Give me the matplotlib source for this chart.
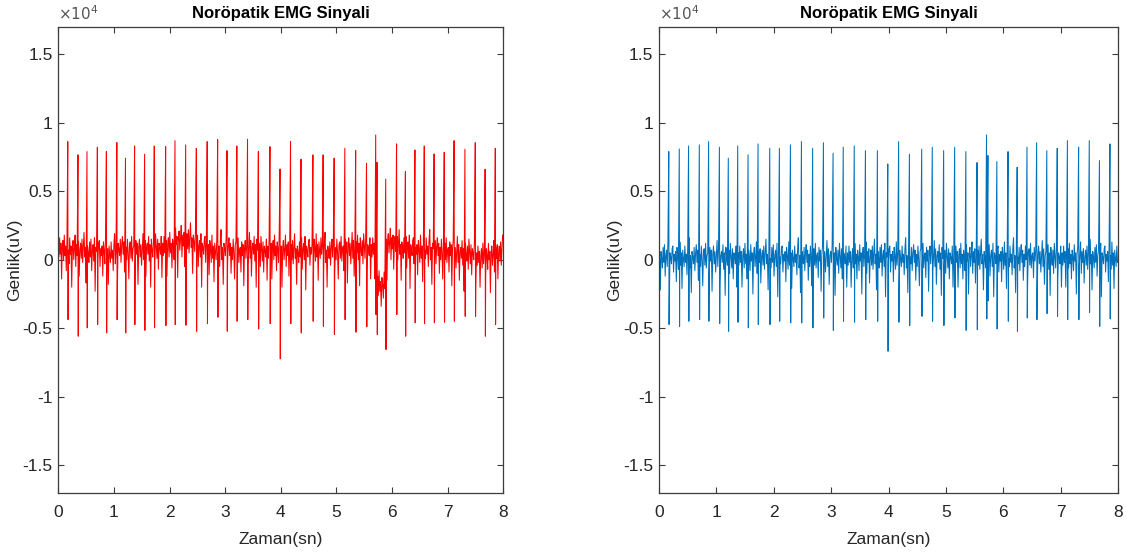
import matplotlib
matplotlib.use("Agg")
import matplotlib.pyplot as plt

# ---------------- data (amplitudes in units of 1e4 uV) ----------------
spike_t = [0.171, 0.354, 0.516, 0.703, 0.865, 1.053, 1.208, 1.372, 1.552, 1.726,
           1.930, 2.098, 2.290, 2.482, 2.677, 2.865, 3.033, 3.210, 3.402, 3.597,
           3.805, 3.986, 4.175, 4.363, 4.577, 4.761, 4.959, 5.151, 5.346, 5.541,
           5.706, 5.730, 5.886, 6.081, 6.240, 6.411, 6.579, 6.756, 6.938, 7.115,
           7.310, 7.496, 7.673, 7.856]

red_top = [0.862, 0.765, 0.789, 0.821, 0.789, 0.855, 0.741, 0.830, 0.770, 0.830,
           0.825, 0.869, 0.837, 0.813, 0.862, 0.877, 0.796, 0.830, 0.879, 0.789,
           0.825, 0.661, 0.862, 0.733, 0.765, 0.765, 0.741, 0.813, 0.796, 0.704,
           0.910, 0.710, 0.588, 0.845, 0.643, 0.801, 0.830, 0.772, 0.784, 0.869,
           0.806, 0.854, 0.661, 0.813]
red_bot = [-0.437, -0.558, -0.497, -0.473, -0.534, -0.437, -0.534, -0.473, -0.515, -0.497,
           -0.480, -0.473, -0.478, -0.522, -0.466, -0.420, -0.522, -0.449, -0.437, -0.505,
           -0.466, -0.723, -0.466, -0.534, -0.449, -0.486, -0.546, -0.437, -0.529, -0.490,
           -0.400, -0.546, -0.655, -0.400, -0.558, -0.460, -0.466, -0.460, -0.456, -0.449,
           -0.413, -0.413, -0.558, -0.473]

blue_top = [0.789, 0.808, 0.830, 0.838, 0.862, 0.821, 0.741, 0.830, 0.765, 0.845,
            0.813, 0.813, 0.838, 0.862, 0.813, 0.854, 0.777, 0.821, 0.830, 0.796,
            0.796, 0.699, 0.862, 0.770, 0.806, 0.821, 0.796, 0.821, 0.789, 0.709,
            0.910, 0.760, 0.716, 0.789, 0.675, 0.821, 0.854, 0.796, 0.813, 0.869,
            0.821, 0.869, 0.723, 0.845]
blue_bot = [-0.473, -0.486, -0.449, -0.437, -0.449, -0.466, -0.522, -0.456, -0.497, -0.473,
            -0.473, -0.449, -0.461, -0.461, -0.497, -0.425, -0.515, -0.449, -0.456, -0.437,
            -0.449, -0.668, -0.456, -0.480, -0.413, -0.449, -0.480, -0.425, -0.515, -0.510,
            -0.432, -0.300, -0.505, -0.449, -0.522, -0.425, -0.437, -0.393, -0.413, -0.437,
            -0.437, -0.384, -0.486, -0.432]

# baseline level of the raw (red) signal in each gap between spikes
red_offset = [0.06, 0.05, 0.05, 0.04, 0.04, 0.03, 0.06, 0.05, 0.05, 0.06,
              0.07, 0.08, 0.12, 0.12, 0.07, 0.05, 0.06, 0.05, 0.04, 0.06,
              0.05, 0.06, 0.05, 0.04, 0.05, 0.06, 0.04, 0.05, 0.06, 0.07,
              0.06, 0.00, -0.20, 0.10, 0.07, 0.06, 0.05, 0.06, 0.05, 0.04,
              0.03, 0.03, 0.00, 0.01, 0.03]
blue_offset = [0.0] * 45

# background activity
noise = [0.05, -0.04, 0.10, -0.02, 0.06, -0.20, 0.03, 0.08, -0.06, 0.12, -0.03, 0.04, -0.14, 0.07,
         0.02, -0.08, 0.11, -0.01, 0.05, -0.25, 0.04, 0.09, -0.05, 0.03, 0.13, -0.10, 0.06, -0.02,
         0.08, -0.17, 0.02, 0.07, -0.04, 0.10, -0.07, 0.05, 0.15, -0.03, 0.04, -0.22, 0.06, 0.01,
         -0.06, 0.09, -0.02, 0.11, -0.12, 0.03, 0.07, -0.05, 0.12, -0.27, 0.05, 0.02, -0.03, 0.08,
         0.10, -0.09, 0.04, -0.01, 0.06, -0.16, 0.09, 0.03, -0.07, 0.13, -0.04, 0.05, -0.21, 0.07,
         0.01, -0.05, 0.10, -0.02, 0.04, -0.11, 0.08, 0.16, -0.06, 0.03, -0.24, 0.06, 0.02, -0.03,
         0.09, -0.08, 0.05, 0.11, -0.02, 0.07, -0.15, 0.04, -0.05, 0.10, 0.00, -0.19, 0.06, 0.08,
         -0.04, 0.12, -0.06, 0.03, 0.05, -0.13, 0.09, -0.01, 0.07, -0.23, 0.04, 0.10, -0.03, 0.06,
         -0.09, 0.02, 0.14, -0.05, 0.08, -0.18, 0.03, 0.06, -0.02, 0.11, -0.07, 0.05, -0.26, 0.09,
         0.01, -0.04, 0.07, -0.10, 0.12, 0.03, -0.06, 0.08, -0.14, 0.05, 0.02, -0.03, 0.10, -0.20]

x_ticks = [0, 1, 2, 3, 4, 5, 6, 7, 8]
y_ticks = [-1.5, -1, -0.5, 0, 0.5, 1, 1.5]
y_ticklabels = ['-1.5', '-1', '-0.5', '0', '0.5', '1', '1.5']
title = 'Noröpatik EMG Sinyali'
xlabel = 'Zaman(sn)'
ylabel = 'Genlik(uV)'
T_END = 8.0


def build(tops, bots, offsets, shift):
    ts, vs = [], []
    edges = [0.0] + spike_t + [T_END]
    k = shift
    for i in range(len(edges) - 1):
        a, b = edges[i], edges[i + 1]
        start = a + (0.010 if i > 0 else 0.0)
        end = b - 0.003 if i < len(spike_t) else b
        n = max(int((end - start) / 0.012), 1)
        for j in range(n):
            ts.append(start + (end - start) * j / n)
            vs.append(offsets[i] + noise[k % len(noise)])
            k += 1
        if i < len(spike_t):
            ts += [spike_t[i], spike_t[i] + 0.005]
            vs += [tops[i], bots[i]]
    return ts, vs


FONT = ['Liberation Sans', 'DejaVu Sans']
plt.rcParams['font.family'] = FONT
TXT = '#262626'
AX = '#3c3c3c'

fig = plt.figure(figsize=(11.27, 5.58), dpi=100)
positions = [[0.0517, 0.117, 0.3949, 0.8351], [0.5847, 0.117, 0.4075, 0.8351]]
ylabel_x = [-0.082, -0.080]
series = [(red_top, red_bot, red_offset, '#ff0000', 0),
          (blue_top, blue_bot, blue_offset, '#0072bd', 37)]

for pos, lx, (tops, bots, offs, col, sh) in zip(positions, ylabel_x, series):
    ax = fig.add_axes(pos)
    t, v = build(tops, bots, offs, sh)
    ax.plot(t, v, color=col, linewidth=0.75)
    ax.set_xlim(0, 8)
    ax.set_ylim(-1.7, 1.7)
    ax.set_xticks(x_ticks)
    ax.set_xticklabels([str(x) for x in x_ticks])
    ax.set_yticks(y_ticks)
    ax.set_yticklabels(y_ticklabels)
    ax.tick_params(direction='in', top=True, right=True, length=4, width=0.8,
                   colors=AX, labelcolor=TXT, labelsize=12.5)
    ax.tick_params(axis='x', pad=9)
    ax.tick_params(axis='y', pad=4)
    for s in ax.spines.values():
        s.set_color(AX)
        s.set_linewidth(0.9)
    ax.set_title(title, fontsize=12, fontweight='bold', color='#000000', pad=6)
    ax.set_xlabel(xlabel, fontsize=12.5, color=TXT)
    ax.xaxis.set_label_coords(0.5, -0.085)
    ax.set_ylabel(ylabel, fontsize=12.5, color=TXT)
    ax.yaxis.set_label_coords(lx, 0.5)
    ax.text(0.0, 1.008, r'$\times10^{4}$', transform=ax.transAxes, fontsize=11,
            color='#555555', ha='left', va='bottom')

fig.savefig('out.png', dpi=100)
